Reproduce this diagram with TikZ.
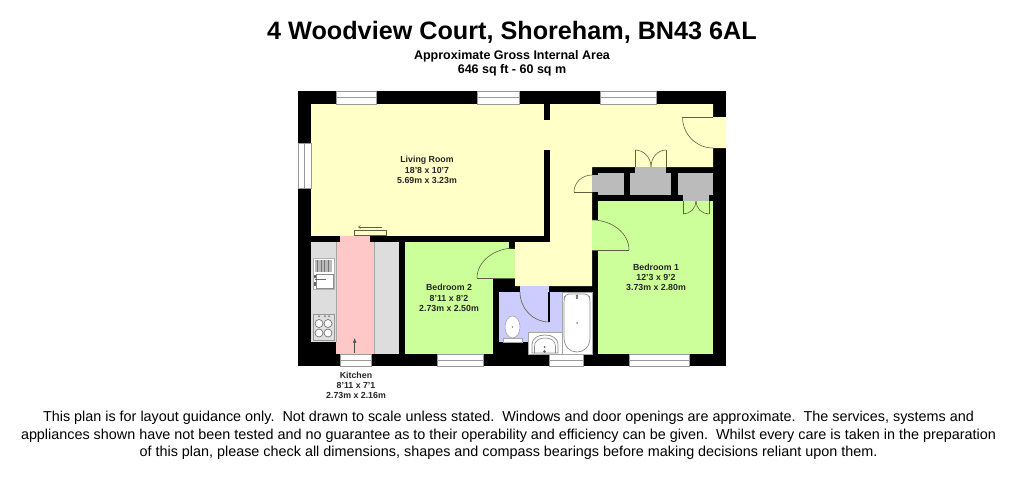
\documentclass[tikz,border=0pt]{standalone}
\usepackage{fontspec}
\setmainfont{Liberation Sans}
\usetikzlibrary{arrows.meta}
\definecolor{wy}{HTML}{FFFFC8}
\definecolor{wg}{HTML}{CCFF99}
\definecolor{wb}{HTML}{CCCCFF}
\definecolor{wp}{HTML}{FFC8C8}
\definecolor{gk}{HTML}{DDDDDD}
\definecolor{gc}{HTML}{BBBBBB}
\definecolor{lnk}{HTML}{5E6040}
\tikzset{
 labeltext/.style={font=\fontsize{8.8}{10.3}\selectfont\bfseries,align=center,text=black!85,inner sep=0},
 doorleaf/.style={draw=lnk,line width=.9pt},
 doorarc/.style={draw=lnk,line width=.6pt},
 winline/.style={draw=black!40,line width=.7pt},
 fixline/.style={draw=black!45,line width=.6pt}
}
\begin{document}
\begin{tikzpicture}[x=1pt,y=-1pt]
\useasboundingbox (0,0) rectangle (1024,482);
\fill[white] (0,0) rectangle (1024,482);
% titles
\node[font=\fontsize{25.2}{28}\selectfont\bfseries,inner sep=0] (title) at (512,32.5) {4 Woodview Court, Shoreham, BN43 6AL};
\node[font=\fontsize{12.5}{14}\selectfont\bfseries,align=center,inner sep=0] (area) at (512,63) {Approximate Gross Internal Area\\646 sq ft - 60 sq m};
% walls
\fill[black] (298,91) rectangle (726,366);
% rooms
\fill[wy] (311,104) rectangle (544,236);
\fill[wy] (544,120) rectangle (550,150);
\fill[wy] (550,104) -- (713,104) -- (713,117) -- (726,117) -- (726,148) -- (713,148) -- (713,167) -- (592,167) -- (592,286) -- (515,286) -- (515,242) -- (550,242) -- cycle;
\fill[wg] (598,201) rectangle (713,354);
\fill[wg] (592,220) rectangle (598,250);
\fill[wg] (405,242) rectangle (509,278.5);
\fill[wg] (405,278) rectangle (492.5,354);
\fill[wg] (509,249) rectangle (515,278);
\fill[wb] (499,292) rectangle (562,342);
\fill[wb] (520,286) rectangle (549,292);
% kitchen
\fill[gk] (311,242) rectangle (336,342);
\fill[gk] (374,242) rectangle (399,354);
\fill[wp] (336,242) rectangle (374,354);
\fill[wp] (340,236) rectangle (370,242);
\draw[draw=black!35,line width=.5pt] (336,242) -- (336,342) (374.5,242) -- (374.5,354);
% kitchen sink
\fill[white,draw=black!30,line width=.4pt] (313,258) rectangle (334,289);
\fill[gc] (315,259.5) rectangle (332,272);
\foreach \x in {317.5,321,324.5,328}{\draw[black!55,line width=.8pt] (\x,260) -- (\x,272);}
\draw[fixline] (316,274) rectangle (333,288);
\draw[black!60,line width=.9pt] (315,279.5) -- (326,279.5);
\fill[black!60] (314.2,275) rectangle (315.8,278) (314.2,282) rectangle (315.8,286);
% hob
\fill[black!12,draw=black!40,line width=.4pt] (313,314) rectangle (334,340);
\foreach \x in {319,325,329}{\fill[black!45] (\x,316.3) circle (1.1);}
\foreach \x/\y in {319/323.5,328/323.5,319/333,328/333}{\draw[black!55,fill=white,line width=.7pt] (\x,\y) circle (4);}
% cupboards
\fill[gc] (598,173) rectangle (624,195);
\fill[gc] (592,175) rectangle (598,192);
\fill[gc] (630,173) rectangle (671,195);
\fill[gc] (635,167) rectangle (666,173);
\fill[gc] (678,173) rectangle (713,195);
\fill[gc] (683,195) rectangle (709,201);
% windows
\foreach \a/\b in {336/376,477/519,600/656}{\fill[white] (\a,91) rectangle (\b,104);\draw[winline] (\a,91) rectangle (\b,104) (\a,97.5) -- (\b,97.5);}
\foreach \a/\b in {340/371,437/483,549/583,629/689}{\fill[white] (\a,354) rectangle (\b,366);\draw[winline] (\a,354) rectangle (\b,366) (\a,360) -- (\b,360);}
\fill[white] (298,143) rectangle (311,188);
\draw[winline] (298,143) rectangle (311,188) (304.5,143) -- (304.5,188);
% bathroom fixtures
\fill[white,draw=black!35,line width=.5pt] (528,332) rectangle (562,354);
\fill[white,draw=black!35,line width=.5pt] (562,292) rectangle (592,354);
\draw[black!45,line width=.7pt,rounded corners=4pt] (577,294) -- (565,294) -- (564,300) -- (564,337);
\draw[black!45,line width=.7pt] (564,337) .. controls (564,347) and (570,352) .. (577,352) .. controls (584,352) and (590,347) .. (590,337);
\draw[black!45,line width=.7pt,rounded corners=4pt] (590,337) -- (590,300) -- (589,294) -- (577,294);
\fill[black!60] (577,296) circle (1.4);
\fill[black!50] (576,295.5) rectangle (578,299);
\fill[black!45] (577,323) circle (1);
\draw[black!45,line width=.7pt] (532,353) -- (532,345) .. controls (532,338) and (538,335) .. (545,335) .. controls (552,335) and (558,338) .. (558,345) -- (558,353) -- cycle;
\draw[black!45,line width=.6pt] (534.5,353) -- (534.5,346) .. controls (534.5,341) and (539,338) .. (545,338) .. controls (551,338) and (555.5,341) .. (555.5,346) -- (555.5,353);
\fill[black!65] (544.5,347) circle (1);
\fill[black!65] (544.5,351.5) circle (1.3);
\fill[white,draw=black!40,line width=.5pt] (512.5,327) ellipse (7.5 and 11);
\fill[black!45] (512.5,327) circle (.8);
\fill[white,draw=black!35,line width=.5pt] (503,338.5) rectangle (522,342);
% sliding door
\draw[draw=lnk,fill=wy,line width=.6pt] (354.5,230.5) rectangle (386,235);
\coordinate (slideA) at (382,227);
\coordinate (slideB) at (358,227);
\draw[draw=lnk,line width=.6pt,-{Straight Barb[length=2pt,width=3pt]}] (slideA) -- (slideB);
% kitchen arrow
\coordinate (kitA) at (354.7,353);
\coordinate (kitB) at (354.7,338);
\draw[black!70,line width=.5pt,-{Latex[length=4.5pt,width=3.5pt]}] (kitA) -- (kitB);
% entrance door
\draw[doorleaf] (713,117) -- (682.5,117);
\draw[doorarc] (682.5,117) arc[start angle=180,delta angle=-90,x radius=30.5,y radius=31];
% cupboard 1 door
\draw[doorleaf] (592,192) -- (574,192);
\draw[doorarc] (574,192) arc[start angle=180,delta angle=90,x radius=18,y radius=17];
% cupboard 2 doors
\draw[doorleaf] (635,167) -- (635,150) (666,167) -- (666,150);
\draw[doorarc] (635,150) arc[start angle=270,delta angle=90,x radius=16,y radius=17];
\draw[doorarc] (666,150) arc[start angle=270,delta angle=-90,x radius=15,y radius=17];
% cupboard 3 doors
\draw[doorleaf] (683,201) -- (683,214) (709,201) -- (709,214);
\draw[doorarc] (683,214) arc[start angle=90,delta angle=-90,x radius=13,y radius=13];
\draw[doorarc] (709,214) arc[start angle=90,delta angle=90,x radius=13,y radius=13];
% bedroom doors
\draw[doorleaf] (592,250) -- (629,250);
\draw[doorarc] (629,250) arc[start angle=0,delta angle=-90,x radius=37,y radius=30];
\draw[doorleaf] (515,278) -- (477,278);
\draw[doorarc] (477,278) arc[start angle=180,delta angle=90,x radius=38,y radius=30];
% bathroom door
\draw[black,line width=1.2pt] (549,292) -- (549,322);
\draw[doorarc] (549,322) arc[start angle=90,delta angle=90,x radius=29,y radius=30];
% labels
\node[labeltext] (living) at (427,170) {Living Room\\18'8 x 10'7\\5.69m x 3.23m};
\node[labeltext] (bedtwo) at (449,298) {Bedroom 2\\8'11 x 8'2\\2.73m x 2.50m};
\node[labeltext] (bedone) at (656,277.5) {Bedroom 1\\12'3 x 9'2\\3.73m x 2.80m};
\node[labeltext] (kitchen) at (356,385.5) {Kitchen\\8'11 x 7'1\\2.73m x 2.16m};
% footer
\node[font=\fontsize{14.38}{17.6}\selectfont,align=center,inner sep=0] (foot) at (508.5,435.5) {This plan is for layout guidance only.\ \ Not drawn to scale unless stated.\ \ Windows and door openings are approximate.\ \ The services, systems and\\appliances shown have not been tested and no guarantee as to their operability and efficiency can be given.\ \ Whilst every care is taken in the preparation\\of this plan, please check all dimensions, shapes and compass bearings before making decisions reliant upon them.};
\end{tikzpicture}
\end{document}
